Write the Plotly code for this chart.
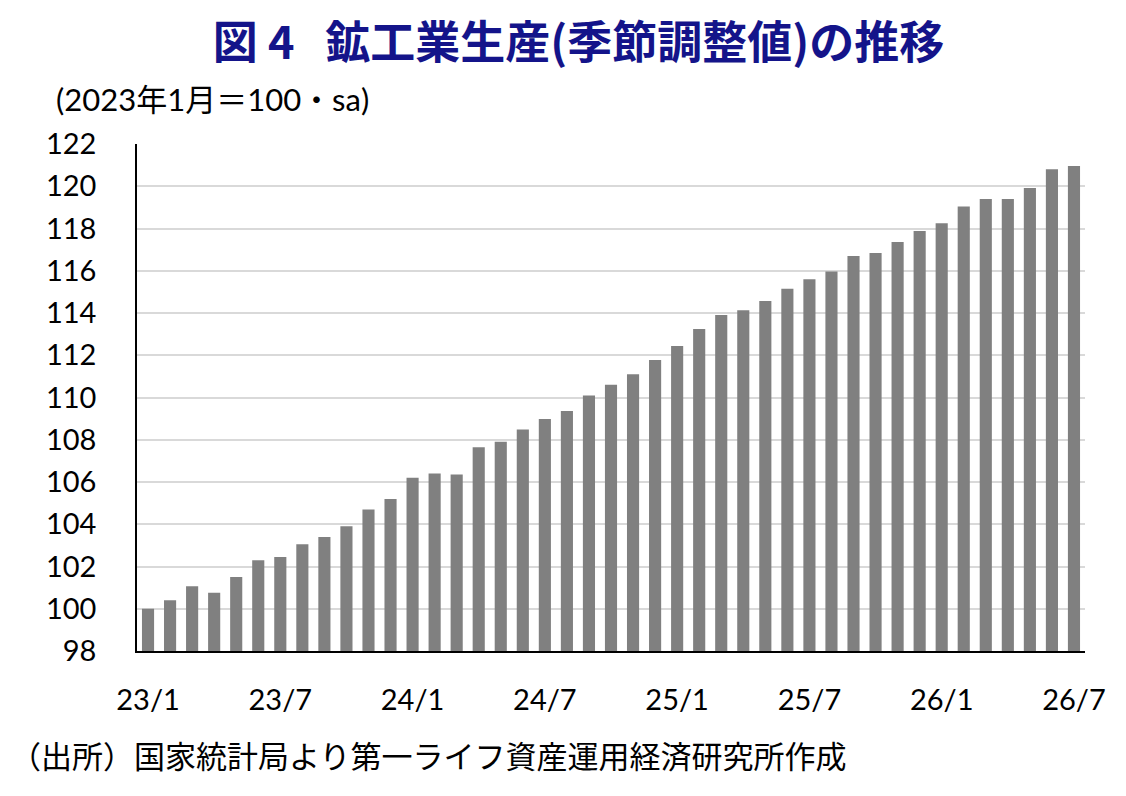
import plotly.graph_objects as go

# months, 2023/1 .. 2026/7
months = [
    "23/1", "23/2", "23/3", "23/4", "23/5", "23/6", "23/7", "23/8", "23/9", "23/10", "23/11", "23/12",
    "24/1", "24/2", "24/3", "24/4", "24/5", "24/6", "24/7", "24/8", "24/9", "24/10", "24/11", "24/12",
    "25/1", "25/2", "25/3", "25/4", "25/5", "25/6", "25/7", "25/8", "25/9", "25/10", "25/11", "25/12",
    "26/1", "26/2", "26/3", "26/4", "26/5", "26/6", "26/7",
]

# industrial production index (2023/1 = 100, seasonally adjusted)
production = [
    100.0, 100.4, 101.07, 100.76, 101.5, 102.3, 102.45, 103.05, 103.4, 103.9, 104.7, 105.2,
    106.2, 106.4, 106.35, 107.65, 107.9, 108.48, 108.98, 109.36, 110.09, 110.6, 111.1, 111.77,
    112.44, 113.24, 113.9, 114.13, 114.57, 115.15, 115.6, 115.96, 116.7, 116.84, 117.36, 117.88,
    118.25, 119.04, 119.4, 119.4, 119.92, 120.8, 120.96,
]

x_ticks = ["23/1", "23/7", "24/1", "24/7", "25/1", "25/7", "26/1", "26/7"]
y_ticks = list(range(98, 123, 2))

title = "図 4\u00a0\u00a0\u00a0鉱工業生産(季節調整値)の推移"
unit_note = "(2023年1月＝100・sa)"
source_note = "（出所）国家統計局より第一ライフ資産運用経済研究所作成"

font_latin = "Lato, Noto Sans CJK JP, sans-serif"
font_cjk = "Noto Sans CJK JP, sans-serif"

# page has an 8px body margin, so the figure is drawn a bit smaller than the window
W, H = 1110, 780

fig = go.Figure()
fig.add_trace(go.Bar(x=months, y=production, marker_color="#808080",
                     marker_line_width=0, name="鉱工業生産"))

fig.update_layout(
    width=W, height=H,
    paper_bgcolor="white", plot_bgcolor="white",
    margin=dict(l=129, r=33, t=136, b=137),
    bargap=0.45,
    showlegend=False,
    title=dict(text=f"<b>{title}</b>", x=0.514, xanchor="center", y=0.955, yanchor="middle",
               font=dict(family=font_cjk, size=45, color="#14148a")),
    font=dict(family=font_latin, color="black"),
)

fig.update_xaxes(
    type="category", categoryorder="array", categoryarray=months,
    tickvals=x_ticks, ticktext=x_ticks,
    tickfont=dict(family=font_latin, size=29, color="black"),
    ticklabelstandoff=22,
    showline=True, linecolor="black", linewidth=2,
    showgrid=False, ticks="",
)
fig.update_yaxes(
    range=[98, 122], tickvals=y_ticks,
    tickfont=dict(family=font_latin, size=29, color="black"),
    showline=True, linecolor="black", linewidth=1.5,
    showgrid=True, gridcolor="#d9d9d9", gridwidth=1.5,
    zeroline=False, ticks="", ticklabelstandoff=33,
)

fig.add_annotation(text=unit_note, xref="paper", yref="paper", x=-0.088, y=1.047,
                   xanchor="left", yanchor="bottom", showarrow=False,
                   font=dict(family=font_latin, size=31, color="black"))
fig.add_annotation(text=source_note, xref="paper", yref="paper", x=-0.136, y=-0.155,
                   xanchor="left", yanchor="top", showarrow=False,
                   font=dict(family=font_cjk, size=31, color="black"))

fig.write_html("out.html")
